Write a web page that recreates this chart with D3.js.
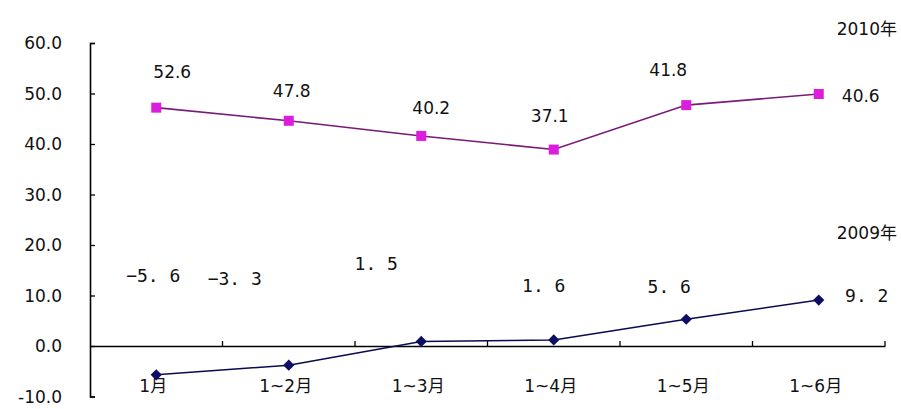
<!DOCTYPE html>
<html>
<head>
<meta charset="UTF-8">
<title>2009-2010</title>
<style>
  body { margin: 0; background: #fff; }
  svg { display: block; }
  text { font-family: 'DejaVu Sans', 'Noto Sans CJK SC', sans-serif; fill: #111; }
  .mono { font-family: 'DejaVu Sans Mono', 'Liberation Mono', monospace; }
</style>
</head>
<body>
<svg id="chart"></svg>
<script src="https://d3js.org/d3.v7.min.js"></script>
<script>

const width = 901, height = 409;

// categories and series
const months = ["1月", "1~2月", "1~3月", "1~4月", "1~5月", "1~6月"];
const values2010 = [47.2, 44.6, 41.6, 38.9, 47.7, 49.9];
const values2009 = [-5.7, -3.8, 0.9, 1.2, 5.3, 9.1];
// printed data labels (as in the picture)
const labels2010 = ["52.6", "47.8", "40.2", "37.1", "41.8", "40.6"];
const labels2009 = ["-5.6", "-3.3", "1.5", "1.6", "5.6", "9.2"];
const yTicks = [-10, 0, 10, 20, 30, 40, 50, 60];

// label offsets from each point (layout only)
const off2010 = [[16, -36], [3, -30], [10, -28], [-4, -34], [-18, -35], [42, 2]];
const off2009 = [[-3, -99], [-54, -87], [-45, -78], [-10, -54], [-17, -33], [48, -5]];

let svg = d3.select("#chart")
    .attr("width", width)
    .attr("height", height);

let x = d3.scaleBand().domain(months).range([90, 885]);
let y = d3.scaleLinear().domain([-10, 60]).range([396.5, 43]);

// y axis
let yAxis = d3.axisRight(y)
    .tickValues(yTicks)
    .tickSize(5)
    .tickFormat("");
let yg = svg.append("g")
    .attr("transform", "translate(90,0)")
    .call(yAxis);
yg.select(".domain").attr("stroke", "#000").attr("stroke-width", 1.6);
yg.selectAll(".tick line").attr("stroke", "#000").attr("stroke-width", 1.3);

svg.append("g")
    .selectAll("text")
    .data(yTicks)
    .enter()
    .append("text")
    .attr("x", 62)
    .attr("y", d => y(d))
    .attr("dy", "0.36em")
    .attr("text-anchor", "end")
    .style("font-size", "17px")
    .text(d => d.toFixed(1));

// x axis at zero
let xAxis = d3.axisTop(x).tickSize(0).tickFormat("");
let xg = svg.append("g")
    .attr("transform", "translate(0," + y(0) + ")")
    .call(xAxis);
xg.select(".domain").attr("stroke", "#000").attr("stroke-width", 1.6);

// tick marks at band boundaries
let bounds = months.map(m => x(m)).concat([x.range()[1]]).slice(1);
svg.append("g")
    .selectAll("line")
    .data(bounds)
    .enter()
    .append("line")
    .attr("x1", d => d).attr("x2", d => d)
    .attr("y1", y(0)).attr("y2", y(0) - 5)
    .attr("stroke", "#000")
    .attr("stroke-width", 1.3);

svg.append("g")
    .selectAll("text")
    .data(months)
    .enter()
    .append("text")
    .attr("x", d => x(d) + x.bandwidth() / 2 - 3)
    .attr("y", 386)
    .attr("dy", "0.36em")
    .attr("text-anchor", "middle")
    .style("font-size", "17px")
    .text(d => d);

let cx = d => x(d) + x.bandwidth() / 2;

let line = d3.line()
    .x((d, i) => cx(months[i]))
    .y(d => y(d));

// 2010 series
svg.append("path")
    .datum(values2010)
    .attr("d", line)
    .attr("fill", "none")
    .attr("stroke", "#7a1a78")
    .attr("stroke-width", 1.6);

svg.append("g")
    .selectAll("rect")
    .data(values2010)
    .enter()
    .append("rect")
    .attr("x", (d, i) => cx(months[i]) - 5)
    .attr("y", d => y(d) - 5)
    .attr("width", 10)
    .attr("height", 10)
    .attr("fill", "#dd1ddd");

svg.append("g")
    .selectAll("text")
    .data(labels2010)
    .enter()
    .append("text")
    .attr("x", (d, i) => cx(months[i]) + off2010[i][0])
    .attr("y", (d, i) => y(values2010[i]) + off2010[i][1])
    .attr("dy", "0.36em")
    .attr("text-anchor", "middle")
    .style("font-size", "17px")
    .text(d => d);

// 2009 series
svg.append("path")
    .datum(values2009)
    .attr("d", line)
    .attr("fill", "none")
    .attr("stroke", "#0a0a50")
    .attr("stroke-width", 1.6);

svg.append("g")
    .selectAll("path")
    .data(values2009)
    .enter()
    .append("path")
    .attr("d", d3.symbol().type(d3.symbolDiamond2).size(80))
    .attr("transform", (d, i) => "translate(" + cx(months[i]) + "," + y(d) + ")")
    .attr("fill", "#0d0d66");

// labels printed in a fixed-width face, "−5. 6" style
svg.append("g")
    .selectAll("text")
    .data(labels2009)
    .enter()
    .append("text")
    .attr("class", "mono")
    .attr("x", (d, i) => cx(months[i]) + off2009[i][0])
    .attr("y", (d, i) => y(values2009[i]) + off2009[i][1])
    .attr("dy", "0.36em")
    .attr("text-anchor", "middle")
    .style("font-size", "18px")
    .text(d => d.replace("-", "\u2212").replace(".", ". "));

// series names
svg.append("text")
    .attr("x", 897).attr("y", 29).attr("dy", "0.36em")
    .attr("text-anchor", "end")
    .style("font-size", "17px")
    .text("2010年");

svg.append("text")
    .attr("x", 897).attr("y", 233).attr("dy", "0.36em")
    .attr("text-anchor", "end")
    .style("font-size", "17px")
    .text("2009年");

</script>
</body>
</html>
